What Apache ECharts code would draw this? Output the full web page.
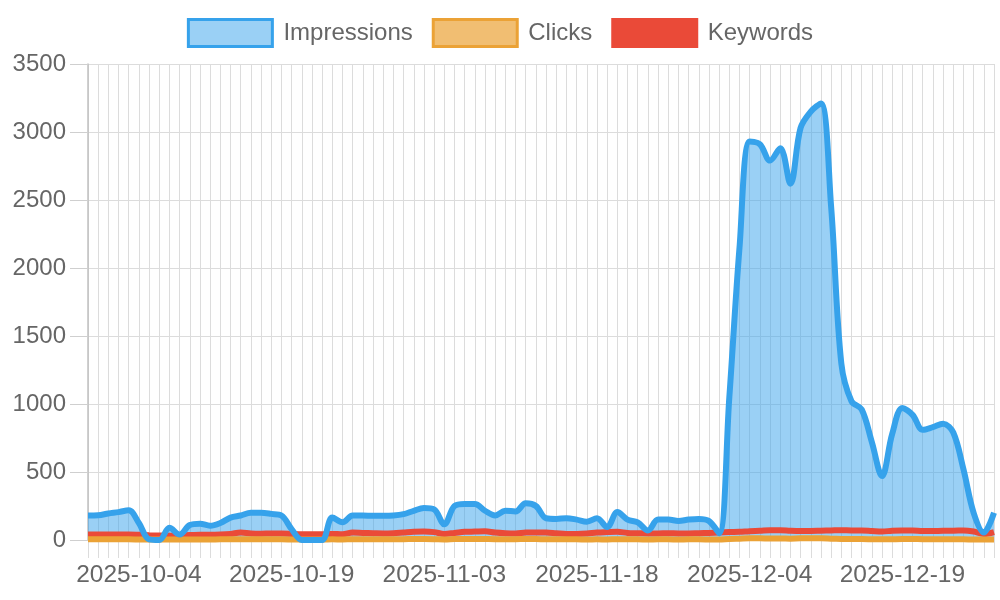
<!DOCTYPE html>
<html>
<head>
<meta charset="utf-8">
<script src="https://cdn.jsdelivr.net/npm/echarts@6/dist/echarts.min.js"></script>
<style>
html,body{margin:0;padding:0;background:#fff;}
#chart{width:1000px;height:600px;}
</style>
</head>
<body>
<div id="chart"></div>
<script>
var categories = [
 '2025-09-29','2025-09-30','2025-10-01','2025-10-02','2025-10-03','2025-10-04','2025-10-05','2025-10-06','2025-10-07','2025-10-08',
 '2025-10-09','2025-10-10','2025-10-11','2025-10-12','2025-10-13','2025-10-14','2025-10-15','2025-10-16','2025-10-17','2025-10-18',
 '2025-10-19','2025-10-20','2025-10-21','2025-10-22','2025-10-23','2025-10-24','2025-10-25','2025-10-26','2025-10-27','2025-10-28',
 '2025-10-29','2025-10-30','2025-10-31','2025-11-01','2025-11-02','2025-11-03','2025-11-04','2025-11-05','2025-11-06','2025-11-07',
 '2025-11-08','2025-11-09','2025-11-10','2025-11-11','2025-11-12','2025-11-13','2025-11-14','2025-11-15','2025-11-16','2025-11-17',
 '2025-11-18','2025-11-19','2025-11-20','2025-11-21','2025-11-22','2025-11-23','2025-11-24','2025-11-25','2025-11-26','2025-11-27',
 '2025-11-29','2025-11-30','2025-12-01','2025-12-02','2025-12-03','2025-12-04','2025-12-05','2025-12-06','2025-12-07','2025-12-08',
 '2025-12-09','2025-12-10','2025-12-11','2025-12-12','2025-12-13','2025-12-14','2025-12-15','2025-12-16','2025-12-17','2025-12-18',
 '2025-12-19','2025-12-20','2025-12-21','2025-12-22','2025-12-23','2025-12-24','2025-12-25','2025-12-26','2025-12-27','2025-12-28'
];

var impressions = [
 180,182,195,205,218,125,5,0,90,40,
 110,120,105,125,165,180,200,200,192,180,
 80,0,0,0,165,130,180,180,178,178,
 180,190,215,235,225,115,250,265,265,215,
 180,215,210,270,250,160,155,160,150,135,
 160,95,205,150,130,70,150,150,140,150,
 155,140,50,1050,2150,2930,2910,2790,2880,2620,
 3030,3150,3210,2450,1300,1020,960,720,470,780,
 970,920,810,830,855,790,520,200,55,200
];

var clicks = [
 5,5,6,5,5,4,3,3,4,3,
 4,4,4,5,5,6,6,5,5,5,
 4,3,3,3,5,4,6,6,5,5,
 6,6,7,7,6,4,7,8,8,7,
 6,6,6,7,7,5,5,5,5,4,
 5,4,6,5,5,3,5,5,4,5,
 5,4,3,8,10,12,12,11,11,10,
 12,12,12,10,8,7,7,6,5,6,
 7,7,6,6,6,6,5,4,3,4
];

var keywords = [
 40,40,41,40,40,38,35,33,32,35,
 36,38,38,40,45,55,48,46,48,48,
 45,42,42,42,45,42,55,52,50,48,
 50,55,60,62,58,45,52,60,62,64,
 55,50,48,55,56,55,50,45,45,48,
 55,58,60,52,50,48,48,50,48,48,
 50,52,55,58,60,65,68,72,72,68,
 66,66,68,70,72,70,70,66,62,68,
 70,70,66,66,68,68,70,62,44,58
];

var yTicks = { min: 0, max: 3500, interval: 500 };
var labelEvery = 15, labelStart = 5;

var FONT = '"Liberation Sans", Arial, Helvetica, sans-serif';
var GRID = '#dcdcdc';
var BLUE = '#36a2eb', ORANGE = '#eba236', RED = '#ea4a38';
var SMOOTH = 0.35;

function areaSeries(name, data, fill) {
  return {
    name: name, type: 'line', data: data, smooth: SMOOTH,
    showSymbol: false, symbol: 'none', silent: true,
    lineStyle: { width: 0, opacity: 0 },
    areaStyle: { color: fill, opacity: 1 }
  };
}
function lineSeries(name, data, color) {
  return {
    name: name, type: 'line', data: data, smooth: SMOOTH,
    showSymbol: false, symbol: 'none',
    lineStyle: { color: color, width: 6 },
    itemStyle: { color: color }
  };
}

var chart = echarts.init(document.getElementById('chart'), null, { renderer: 'canvas' });
chart.setOption({
  animation: false,
  backgroundColor: '#ffffff',
  legend: {
    top: 13,
    left: 'center',
    icon: 'rect',
    itemWidth: 84,
    itemHeight: 27,
    itemGap: 19,
    textStyle: { fontSize: 24, color: '#666', fontFamily: FONT, padding: [0, 0, 0, 6] },
    data: [
      { name: 'Impressions', itemStyle: { color: 'rgba(54,162,235,0.5)', borderColor: BLUE, borderWidth: 3 } },
      { name: 'Clicks', itemStyle: { color: 'rgba(235,162,54,0.7)', borderColor: ORANGE, borderWidth: 3 } },
      { name: 'Keywords', itemStyle: { color: RED, borderColor: RED, borderWidth: 3 } }
    ]
  },
  grid: { left: 88, right: 6, top: 64, bottom: 60, containLabel: false, outerBoundsMode: 'none' },
  xAxis: {
    type: 'category',
    boundaryGap: false,
    data: categories,
    axisLine: { show: true, lineStyle: { color: '#c8c8c8', width: 1 } },
    axisTick: { show: true, interval: 0, length: 18, lineStyle: { color: GRID, width: 1 } },
    splitLine: { show: true, interval: 0, lineStyle: { color: GRID, width: 1 } },
    axisLabel: {
      interval: function (idx) { return idx >= labelStart && (idx - labelStart) % labelEvery === 0; },
      fontSize: 24.5, color: '#666', fontFamily: FONT, margin: 23
    }
  },
  yAxis: {
    type: 'value',
    min: yTicks.min, max: yTicks.max, interval: yTicks.interval,
    axisLine: { show: true, lineStyle: { color: '#c0c0c0', width: 1.5 } },
    axisTick: { show: true, length: 18, lineStyle: { color: '#cfcfcf', width: 1 } },
    splitLine: { show: true, lineStyle: { color: GRID, width: 1 } },
    axisLabel: { fontSize: 24, color: '#666', fontFamily: FONT, margin: 22,
      formatter: function (v) { return String(v); } }
  },
  series: [
    areaSeries('Clicks', clicks, 'rgba(235,162,54,0.7)'),
    areaSeries('Impressions', impressions, 'rgba(54,162,235,0.5)'),
    lineSeries('Keywords', keywords, RED),
    lineSeries('Clicks', clicks, ORANGE),
    lineSeries('Impressions', impressions, BLUE)
  ]
});
</script>
</body>
</html>
